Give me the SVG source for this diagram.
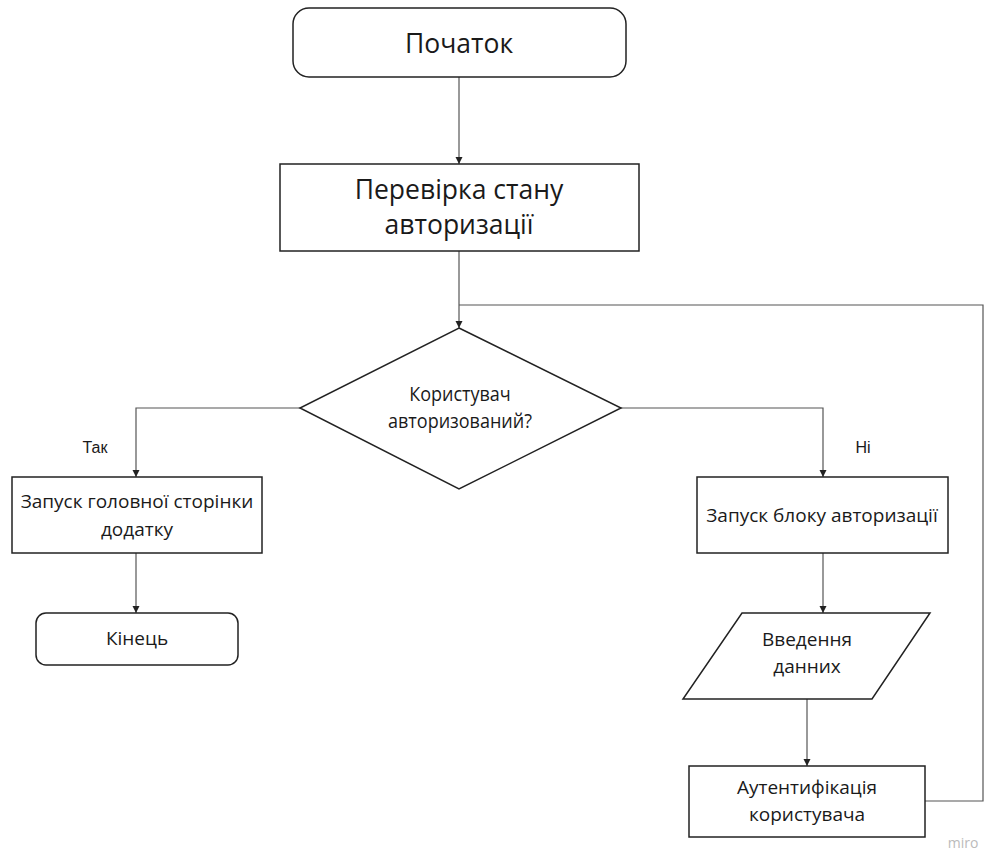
<svg xmlns="http://www.w3.org/2000/svg" width="1000" height="851" viewBox="0 0 1000 851">
<style>
.box{fill:#fff;stroke:#222;stroke-width:1.5}
.con{fill:none;stroke:#555;stroke-width:1.2}
.t{font-family:"Open Sans","Noto Sans",sans-serif;fill:#1a1a1a;text-anchor:middle}
.big{font-size:26.5px}
.mid{font-size:19px}
.dec{font-size:20px}
.lbl{font-family:"Liberation Sans",Arial,sans-serif;font-size:16px;fill:#1a1a1a;text-anchor:middle}
</style>
<defs>
<marker id="ah" viewBox="0 0 10 10" refX="10" refY="5" markerWidth="7" markerHeight="10" markerUnits="userSpaceOnUse" orient="auto">
<path d="M0,0 L10,5 L0,10 z" fill="#222"/>
</marker>
</defs>
<rect width="1000" height="851" fill="#fff"/>
<g id="connectors">
<path class="con" d="M459,77 V164" marker-end="url(#ah)"/>
<path class="con" d="M459,251 V328" marker-end="url(#ah)"/>
<path class="con" d="M925,801 H983 V305 H459"/>
<path class="con" d="M300,408 H136 V477" marker-end="url(#ah)"/>
<path class="con" d="M621,408 H823 V477" marker-end="url(#ah)"/>
<path class="con" d="M136,553 V613" marker-end="url(#ah)"/>
<path class="con" d="M823,553 V613" marker-end="url(#ah)"/>
<path class="con" d="M807,699 V766" marker-end="url(#ah)"/>
<text class="lbl" x="95" y="453">Так</text>
<text class="lbl" x="863" y="453">Ні</text>
</g>
<g id="start">
<rect class="box" x="293" y="8" width="333" height="69" rx="16"/>
<text class="t big" x="459" y="53">Початок</text>
</g>
<g id="check">
<rect class="box" x="280" y="164" width="359" height="87"/>
<text class="t big" x="459" y="199">Перевірка стану</text>
<text class="t big" x="459" y="234">авторизації</text>
</g>
<g id="decision">
<path class="box" d="M459,328 L621,408 L459,489 L300,408 z"/>
<g transform="translate(460 0) scale(0.9 1)">
<text class="t dec" x="0" y="401">Користувач</text>
<text class="t dec" x="0" y="428">авторизований?</text>
</g>
</g>
<g id="main">
<rect class="box" x="12" y="477" width="250" height="76"/>
<text class="t mid" x="137" y="508">Запуск головної сторінки</text>
<text class="t mid" x="137" y="536">додатку</text>
</g>
<g id="end">
<rect class="box" x="36" y="613" width="202" height="52" rx="10"/>
<text class="t mid" x="137" y="645">Кінець</text>
</g>
<g id="authblock">
<rect class="box" x="697" y="477" width="251" height="76"/>
<text class="t mid" x="822" y="522">Запуск блоку авторизації</text>
</g>
<g id="input">
<path class="box" d="M742,613 H930 L872,699 H683 z"/>
<text class="t mid" x="807" y="646">Введення</text>
<text class="t mid" x="807" y="673">данних</text>
</g>
<g id="authn">
<rect class="box" x="689" y="766" width="236" height="71"/>
<text class="t mid" x="807" y="794">Аутентифікація</text>
<text class="t mid" x="807" y="821">користувача</text>
</g>
<text x="963" y="848" font-family="'Open Sans',sans-serif" font-size="14" fill="#bbb" text-anchor="middle">miro</text>
</svg>
